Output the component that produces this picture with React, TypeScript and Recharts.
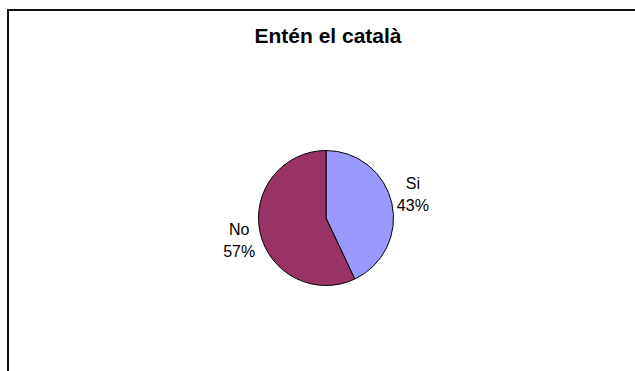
import { PieChart, Pie, Cell } from 'recharts'

const categories = ['Si', 'No']
const values = [43, 57]
const COLORS = ['#9999ff', '#993366']

const data = categories.map((name, i) => ({ name, value: values[i] }))

const RADIAN = Math.PI / 180

// labels sit a little further out vertically than horizontally, like the original
const renderLabel = ({ cx, cy, midAngle, outerRadius, name, percent }: any) => {
  const rx = outerRadius + 21.5
  const ry = outerRadius + 37.5
  const x = cx + rx * Math.cos(-midAngle * RADIAN)
  const y = cy + ry * Math.sin(-midAngle * RADIAN)
  return (
    <text x={x} y={y} textAnchor="middle" fill="#000" fontSize={16} fontFamily="'Liberation Sans', Arial, sans-serif">
      <tspan x={x} dy={-6}>{name}</tspan>
      <tspan x={x} dy={22}>{`${Math.round(percent * 100)}%`}</tspan>
    </text>
  )
}

export default function App() {
  return (
    <div style={{ position: 'absolute', left: 0, top: 0, width: 635, height: 371, overflow: 'hidden', background: '#fff' }}>
      <div style={{ position: 'absolute', left: 7, top: 9, width: 700, height: 400, borderLeft: '2px solid #111', borderTop: '2px solid #111' }} />
      <div style={{
        position: 'absolute', left: 0, top: 24, width: 656, textAlign: 'center',
        fontFamily: "'Liberation Sans', Arial, sans-serif", fontWeight: 'bold', fontSize: 21, color: '#000'
      }}>
        Entén el català
      </div>
      <div style={{ position: 'absolute', left: 0, top: 0 }}>
        <PieChart width={635} height={371} margin={{ top: 0, right: 0, bottom: 0, left: 0 }}>
          <Pie
            data={data}
            dataKey="value"
            nameKey="name"
            cx={326}
            cy={218}
            outerRadius={67.5}
            startAngle={90}
            endAngle={-270}
            stroke="#000"
            strokeWidth={1}
            label={renderLabel}
            labelLine={false}
            isAnimationActive={false}
          >
            {data.map((entry, index) => (
              <Cell key={`cell-${index}`} fill={COLORS[index % COLORS.length]} />
            ))}
          </Pie>
        </PieChart>
      </div>
    </div>
  )
}
